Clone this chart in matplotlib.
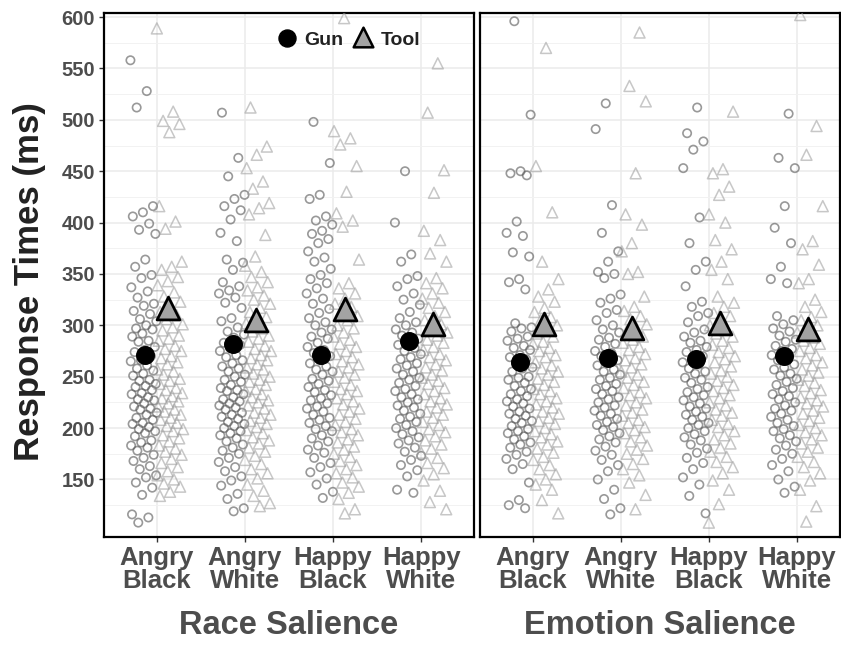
import numpy as np
import matplotlib.pyplot as plt

plt.rcParams['font.family'] = ['Liberation Sans', 'DejaVu Sans']
plt.rcParams['font.weight'] = 'bold'
plt.rcParams['axes.labelweight'] = 'bold'

categories = ['Angry\nBlack', 'Angry\nWhite', 'Happy\nBlack', 'Happy\nWhite']
panel_titles = ['Race Salience', 'Emotion Salience']

# condition means (ms)
race_gun_means = [271, 282, 271, 285]
race_tool_means = [317, 305, 316, 301]
emo_gun_means = [264, 268, 267, 270]
emo_tool_means = [301, 297, 302, 296]

# participant response times (ms), race salience block
race_ab_gun = [558, 528, 512, 416, 410, 406, 399, 393, 389, 364, 357, 349, 346, 337, 333, 327,
               321, 319, 314, 311, 306, 304, 300, 297, 296, 292, 289, 285, 284, 279, 276, 274,
               270, 266, 265, 261, 258, 256, 253, 251, 247, 246, 243, 241, 240, 237, 234, 233,
               230, 228, 227, 224, 221, 219, 218, 215, 213, 210, 208, 205, 204, 201, 199, 197,
               195, 192, 188, 186, 183, 181, 178, 174, 171, 168, 163, 160, 154, 152, 147, 142,
               135, 116, 113, 108]
race_ab_tool = [589, 508, 499, 496, 488, 416, 401, 394, 362, 357, 354, 347, 343, 339, 332, 328,
                323, 317, 313, 310, 306, 301, 298, 295, 290, 287, 285, 280, 277, 275, 270, 268,
                264, 262, 257, 255, 252, 248, 246, 243, 239, 237, 234, 231, 229, 226, 224, 221,
                218, 216, 213, 210, 208, 205, 202, 199, 197, 193, 190, 187, 183, 180, 177, 174,
                170, 166, 162, 158, 154, 150, 146, 143, 138, 134]
race_aw_gun = [507, 463, 445, 427, 423, 416, 412, 403, 390, 382, 364, 361, 354, 342, 338, 334,
               331, 327, 322, 317, 307, 304, 298, 294, 291, 288, 283, 281, 278, 275, 271, 269,
               266, 263, 260, 258, 255, 252, 250, 247, 245, 242, 239, 237, 236, 233, 230, 228,
               226, 224, 222, 220, 218, 215, 213, 211, 209, 206, 204, 202, 200, 197, 195, 193,
               190, 187, 184, 181, 178, 175, 171, 167, 162, 158, 153, 149, 144, 136, 131, 122, 119]
race_aw_tool = [512, 474, 466, 453, 440, 433, 419, 414, 408, 388, 367, 358, 352, 347, 342, 337,
                334, 329, 325, 321, 317, 313, 308, 305, 302, 297, 294, 290, 287, 284, 280, 277,
                275, 271, 268, 266, 262, 259, 257, 253, 250, 247, 245, 242, 238, 236, 233, 230,
                227, 225, 222, 219, 215, 213, 210, 207, 204, 201, 198, 195, 191, 188, 185, 181,
                177, 173, 169, 165, 160, 156, 151, 145, 139, 134, 127, 124]
race_hb_gun = [498, 458, 427, 423, 406, 402, 398, 392, 389, 384, 380, 372, 366, 362, 355, 349,
               345, 341, 336, 331, 326, 321, 316, 312, 307, 303, 300, 296, 293, 289, 287, 283,
               279, 276, 273, 270, 266, 263, 260, 257, 255, 252, 248, 246, 243, 240, 237, 235,
               232, 229, 227, 224, 221, 219, 216, 213, 210, 208, 205, 202, 199, 197, 193, 190,
               187, 183, 179, 176, 171, 166, 162, 157, 151, 145, 138, 132]
race_hb_tool = [599, 489, 482, 476, 455, 430, 409, 402, 396, 364, 341, 336, 331, 326, 321, 318,
                313, 309, 305, 300, 297, 293, 289, 286, 282, 279, 275, 272, 269, 265, 262, 259,
                255, 252, 249, 245, 242, 238, 236, 233, 229, 226, 223, 219, 216, 213, 209, 206,
                203, 199, 196, 193, 189, 186, 182, 179, 175, 172, 168, 164, 160, 156, 152, 147,
                143, 137, 131, 121, 117]
race_hw_gun = [450, 400, 369, 362, 348, 345, 338, 331, 325, 320, 313, 307, 303, 300, 296, 293,
               290, 287, 285, 281, 278, 275, 272, 269, 267, 263, 261, 258, 255, 252, 249, 247,
               244, 241, 238, 236, 233, 230, 228, 225, 222, 220, 217, 214, 211, 209, 206, 203,
               200, 197, 194, 191, 188, 185, 181, 177, 173, 169, 164, 159, 153, 140, 137]
race_hw_tool = [555, 507, 451, 429, 392, 383, 370, 362, 346, 341, 336, 331, 326, 322, 317, 313,
                309, 305, 301, 297, 293, 290, 286, 283, 279, 276, 272, 269, 266, 262, 259, 256,
                252, 249, 246, 243, 239, 236, 233, 229, 226, 223, 220, 216, 213, 210, 206, 203,
                199, 196, 192, 188, 184, 180, 176, 171, 166, 161, 155, 149, 139, 128, 121]

# participant response times (ms), emotion salience block
emo_ab_gun = [596, 505, 450, 448, 446, 401, 390, 387, 371, 367, 345, 342, 335, 302, 298, 297,
              294, 289, 287, 285, 280, 278, 276, 271, 269, 267, 262, 259, 258, 255, 250, 249,
              247, 244, 241, 238, 236, 233, 231, 228, 226, 224, 221, 219, 216, 214, 212, 209,
              207, 205, 202, 199, 197, 195, 192, 189, 186, 184, 181, 177, 174, 170, 165, 160,
              147, 130, 125, 122]
emo_ab_tool = [570, 455, 410, 362, 345, 335, 328, 323, 317, 313, 308, 305, 300, 297, 292, 289,
               284, 282, 278, 275, 271, 269, 264, 261, 258, 255, 252, 248, 245, 242, 238, 236,
               233, 229, 226, 223, 220, 216, 214, 210, 207, 204, 200, 197, 194, 191, 187, 184,
               180, 176, 172, 169, 164, 160, 155, 150, 145, 140, 130, 117]
emo_aw_gun = [516, 491, 417, 390, 372, 362, 352, 350, 346, 330, 326, 322, 315, 312, 305, 300,
              296, 293, 288, 286, 282, 279, 275, 273, 270, 266, 264, 261, 257, 255, 252, 249,
              247, 243, 241, 238, 236, 233, 230, 228, 225, 222, 220, 217, 214, 212, 209, 206,
              203, 201, 198, 195, 192, 189, 186, 182, 178, 174, 169, 164, 158, 150, 140, 131,
              122, 116]
emo_aw_tool = [585, 533, 518, 448, 408, 398, 380, 372, 352, 350, 328, 318, 314, 309, 306, 301,
               297, 294, 289, 286, 283, 279, 276, 272, 268, 266, 262, 259, 255, 252, 249, 245,
               242, 239, 235, 232, 229, 225, 222, 218, 215, 212, 208, 205, 201, 198, 195, 191,
               187, 183, 179, 175, 170, 165, 160, 154, 147, 135, 121]
emo_hb_gun = [512, 487, 479, 471, 453, 405, 380, 362, 354, 338, 323, 318, 312, 309, 303, 296,
              293, 289, 285, 283, 279, 276, 274, 270, 267, 264, 262, 258, 255, 253, 249, 247,
              244, 240, 238, 235, 232, 230, 227, 224, 221, 219, 216, 213, 211, 208, 205, 203,
              200, 197, 194, 191, 188, 184, 180, 176, 171, 166, 160, 152, 145, 134, 117]
emo_hb_tool = [508, 452, 448, 435, 427, 408, 400, 383, 374, 362, 354, 345, 328, 322, 318, 312,
               309, 304, 300, 297, 292, 289, 285, 281, 278, 274, 270, 267, 264, 260, 256, 253,
               250, 246, 242, 239, 236, 232, 229, 225, 222, 218, 215, 212, 208, 204, 201, 197,
               193, 189, 185, 181, 177, 172, 167, 162, 156, 149, 140, 126, 108]
emo_hw_gun = [506, 463, 453, 416, 395, 380, 357, 345, 341, 309, 305, 301, 297, 294, 290, 286,
              284, 280, 277, 275, 271, 268, 266, 262, 259, 257, 253, 251, 248, 245, 242, 239,
              236, 233, 231, 228, 225, 222, 219, 217, 214, 211, 208, 205, 202, 199, 197, 193,
              190, 187, 183, 179, 175, 170, 164, 158, 150, 143, 137]
emo_hw_tool = [602, 494, 466, 416, 382, 374, 359, 345, 341, 325, 318, 313, 308, 305, 300, 296,
               293, 288, 285, 282, 278, 275, 271, 268, 264, 261, 257, 254, 251, 247, 244, 241,
               237, 234, 230, 227, 224, 221, 217, 214, 210, 207, 203, 200, 196, 193, 189, 185,
               181, 177, 172, 167, 162, 156, 149, 140, 124, 109]

race_gun = [race_ab_gun, race_aw_gun, race_hb_gun, race_hw_gun]
race_tool = [race_ab_tool, race_aw_tool, race_hb_tool, race_hw_tool]
emo_gun = [emo_ab_gun, emo_aw_gun, emo_hb_gun, emo_hw_gun]
emo_tool = [emo_ab_tool, emo_aw_tool, emo_hb_tool, emo_hw_tool]


def spread(n, phase):
    # deterministic horizontal scatter in [-0.5, 0.5)
    return (np.arange(n) * 0.6180339887 + phase) % 1.0 - 0.5


W, H = 841, 648
fig = plt.figure(figsize=(W / 100, H / 100), dpi=100)
ax1 = fig.add_axes([104 / W, 1 - 537 / H, 370 / W, 524 / H])
ax2 = fig.add_axes([480 / W, 1 - 537 / H, 360 / W, 524 / H])

panels = [(ax1, race_gun, race_tool, race_gun_means, race_tool_means, (0.4, 4.6)),
          (ax2, emo_gun, emo_tool, emo_gun_means, emo_tool_means, (0.4, 0.4 + 360 / 88))]

for k, (ax, gun, tool, gmeans, tmeans, xl) in enumerate(panels):
    for i in range(4):
        pos = i + 1
        g = np.array(gun[i])
        t = np.array(tool[i])
        ax.scatter(pos - 0.15 + spread(len(g), 0.13 * i + 0.3 * k) * 0.3, g, s=36,
                   facecolors='none', edgecolors='#555555', linewidths=1.2, alpha=0.6, zorder=3)
        ax.scatter(pos + 0.15 + spread(len(t), 0.21 * i + 0.5 * k) * 0.3, t, s=62, marker='^',
                   facecolors='none', edgecolors='#9a9a9a', linewidths=1.1, alpha=0.55, zorder=3)
    xs = np.arange(1, 5)
    ax.scatter(xs - 0.14, gmeans, s=160, color='black', zorder=5)
    ax.scatter(xs + 0.13, tmeans, s=270, marker='^', facecolor='#a3a3a3',
               edgecolor='black', linewidths=2.0, zorder=5)

    ax.set_xlim(*xl)
    ax.set_ylim(94, 604)
    ax.set_xticks(xs)
    ax.set_xticklabels(categories, fontsize=18.5, color='#4d4d4d', linespacing=0.95)
    ax.set_yticks(np.arange(150, 601, 50))
    ax.set_yticks(np.arange(125, 600, 50), minor=True)
    ax.grid(which='major', color='#ebebeb', linewidth=1.1, zorder=0)
    ax.grid(which='minor', axis='y', color='#f2f2f2', linewidth=0.7, zorder=0)
    ax.set_axisbelow(True)
    ax.tick_params(axis='both', which='major', length=3.5, width=1, color='#333333', pad=3)
    ax.tick_params(axis='y', which='minor', length=0)
    ax.tick_params(axis='y', labelsize=14.5, labelcolor='#4d4d4d')
    for sp in ax.spines.values():
        sp.set_linewidth(1.6)
        sp.set_color('black')
    ax.set_xlabel(panel_titles[k], fontsize=23.5, color='#4d4d4d', labelpad=12,
                  fontweight='bold')

ax2.tick_params(axis='y', which='both', left=False, labelleft=False)

fig.text(30 / W, 1 - 282 / H, 'Response Times (ms)', rotation=90, fontsize=25,
         color='#222222', ha='center', va='center')

# legend inside the left panel
ax1.scatter([0.495], [0.952], s=150, color='black', transform=ax1.transAxes,
            clip_on=False, zorder=6)
ax1.text(0.540, 0.952, 'Gun', transform=ax1.transAxes, fontsize=14, color='#222222',
         ha='left', va='center_baseline')
ax1.scatter([0.700], [0.955], s=200, marker='^', facecolor='#a3a3a3', edgecolor='black',
            linewidths=1.8, transform=ax1.transAxes, clip_on=False, zorder=6)
ax1.text(0.748, 0.952, 'Tool', transform=ax1.transAxes, fontsize=14, color='#222222',
         ha='left', va='center_baseline')

fig.savefig('out.png', dpi=100)
